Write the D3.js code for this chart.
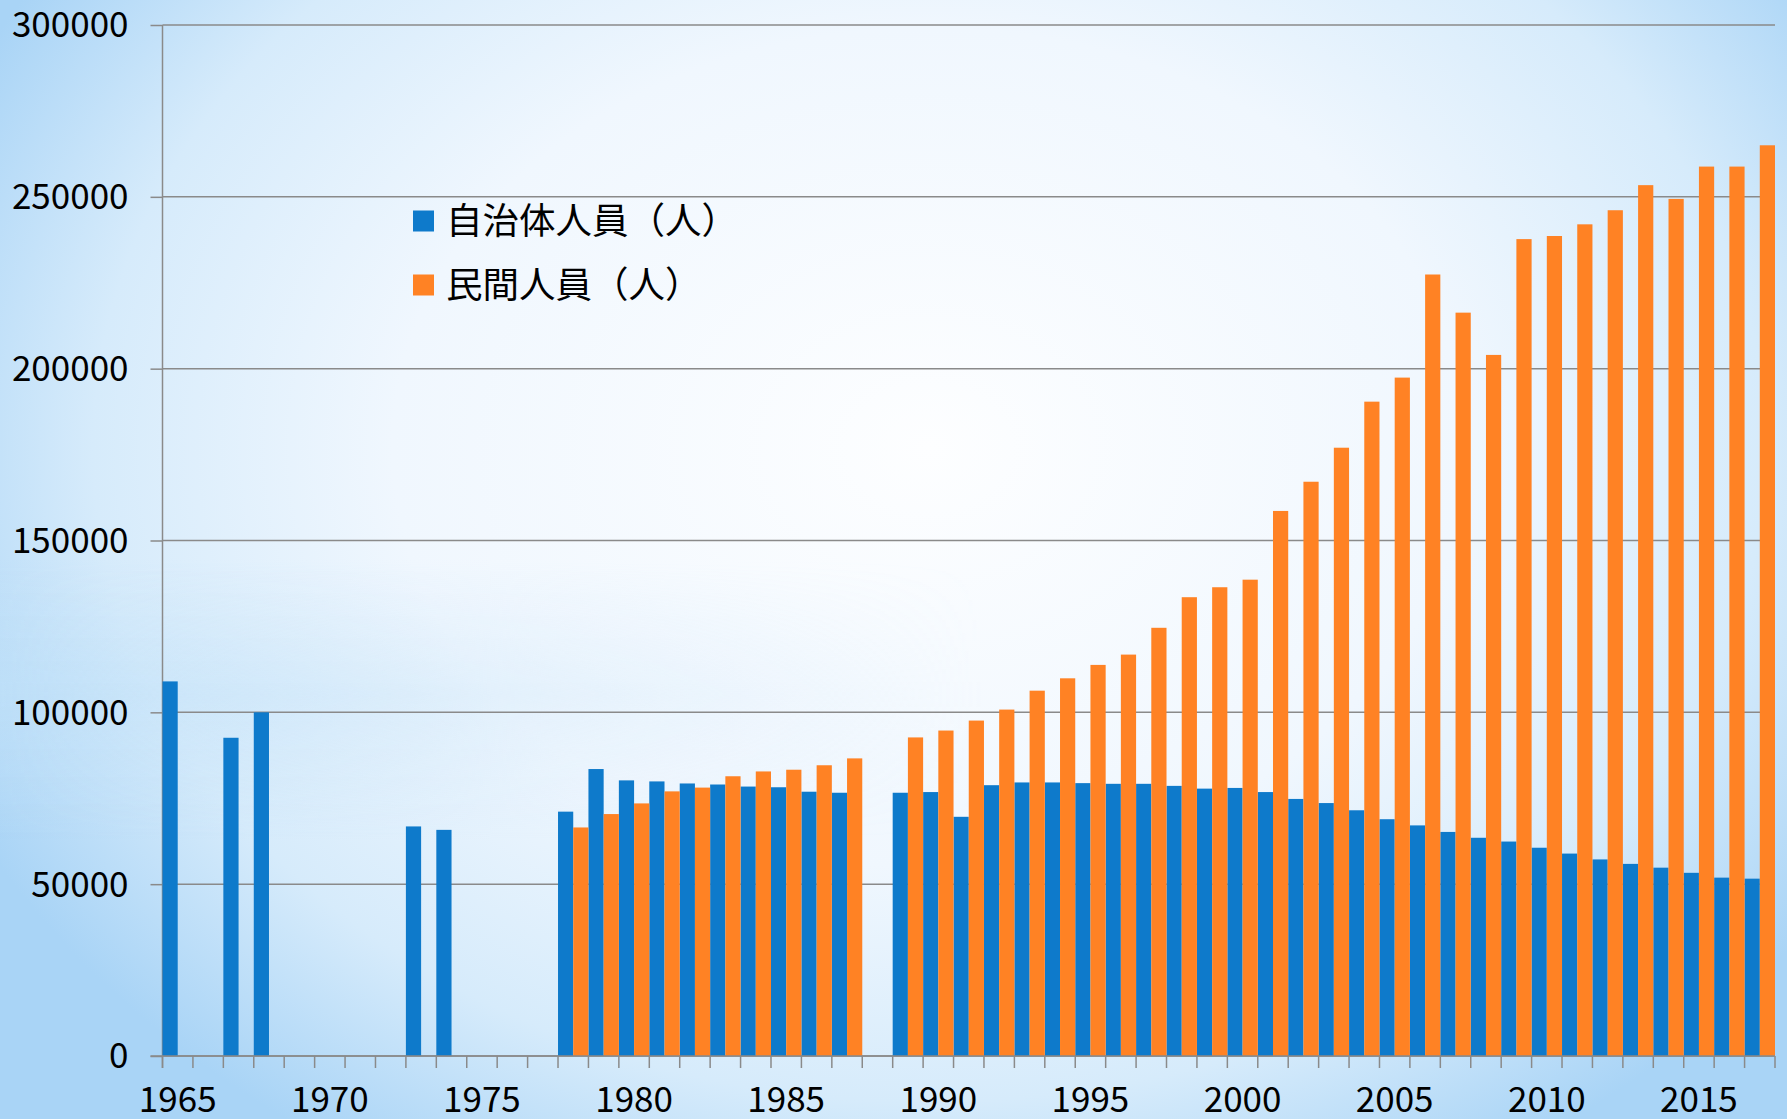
<!DOCTYPE html>
<html>
<head>
<meta charset="utf-8">
<script src="https://cdn.jsdelivr.net/npm/d3@7"></script>
<style>
  html, body { margin: 0; padding: 0; }
  body { width: 1787px; height: 1119px; overflow: hidden; }
  text { font-family: "Noto Sans CJK JP", "Noto Sans", sans-serif; fill: #000; }
</style>
</head>
<body>
<div id="chart"></div>
<script>
// categories
const years = [1965, 1966, 1967, 1968, 1969, 1970, 1971, 1972, 1973, 1974,
               1975, 1976, 1977, 1978, 1979, 1980, 1981, 1982, 1983, 1984,
               1985, 1986, 1987, 1988, 1989, 1990, 1991, 1992, 1993, 1994,
               1995, 1996, 1997, 1998, 1999, 2000, 2001, 2002, 2003, 2004,
               2005, 2006, 2007, 2008, 2009, 2010, 2011, 2012, 2013, 2014,
               2015, 2016, 2017];

// 自治体人員（人）
const localStaff = [109000, null, 92600, 100000, null, null, null, null, 66800, 65800,
                    null, null, null, 71100, 83500, 80200, 79900, 79300, 79000, 78400,
                    78200, 76900, 76600, null, 76600, 76800, 69600, 78800, 79600, 79600,
                    79400, 79200, 79200, 78600, 77800, 78000, 76800, 74800, 73600, 71500,
                    68900, 67100, 65200, 63500, 62400, 60600, 58900, 57200, 55900, 54800,
                    53300, 51900, 51600];

// 民間人員（人）
const privateStaff = [null, null, null, null, null, null, null, null, null, null,
                      null, null, null, 66500, 70400, 73500, 77000, 78100, 81400, 82800,
                      83300, 84600, 86600, null, 92700, 94700, 97600, 100800, 106300, 109900,
                      113800, 116800, 124600, 133500, 136400, 138600, 158600, 167100, 177000, 190400,
                      197400, 227400, 216300, 204000, 237700, 238600, 242000, 246100, 253400, 249400,
                      258800, 258800, 265000];

const seriesNames = ["自治体人員（人）", "民間人員（人）"];
const seriesColors = ["#0e7acb", "#ff8224"];
const yTicks = [0, 50000, 100000, 150000, 200000, 250000, 300000];
const xLabelYears = [1965, 1970, 1975, 1980, 1985, 1990, 1995, 2000, 2005, 2010, 2015];

const W = 1787, H = 1119;
const margin = {top: 25, right: 12, bottom: 63, left: 162.5};

const svg = d3.select("#chart").append("svg")
    .attr("width", W)
    .attr("height", H);

// background
const defs = svg.append("defs");
const bg = defs.append("radialGradient")
    .attr("id", "bg")
    .attr("cx", "52%").attr("cy", "40%")
    .attr("r", "75%")
    .attr("gradientTransform", "translate(0.52,0.40) scale(0.8,1) translate(-0.52,-0.40)");
bg.append("stop").attr("offset", "0%").attr("stop-color", "#fdfeff");
bg.append("stop").attr("offset", "50%").attr("stop-color", "#f0f7fe");
bg.append("stop").attr("offset", "78%").attr("stop-color", "#d6ebfb");
bg.append("stop").attr("offset", "100%").attr("stop-color", "#a9d4f6");

const band = defs.append("linearGradient")
    .attr("id", "band").attr("x1", 0).attr("y1", 0).attr("x2", 0).attr("y2", 1);
band.append("stop").attr("offset", "0.50").attr("stop-color", "#bfe0f8").attr("stop-opacity", 0);
band.append("stop").attr("offset", "0.62").attr("stop-color", "#bfe0f8").attr("stop-opacity", 0.55);
band.append("stop").attr("offset", "0.75").attr("stop-color", "#bfe0f8").attr("stop-opacity", 0);

const bandFade = defs.append("linearGradient")
    .attr("id", "bandFade").attr("x1", 0).attr("y1", 0).attr("x2", 1).attr("y2", 0);
bandFade.append("stop").attr("offset", "0").attr("stop-color", "#fff").attr("stop-opacity", 1);
bandFade.append("stop").attr("offset", "0.55").attr("stop-color", "#fff").attr("stop-opacity", 0);
defs.append("mask").attr("id", "bandMask")
    .append("rect").attr("width", W).attr("height", H).attr("fill", "url(#bandFade)");

svg.append("rect").attr("width", W).attr("height", H).attr("fill", "url(#bg)");
svg.append("rect").attr("width", W).attr("height", H)
    .attr("fill", "url(#band)").attr("mask", "url(#bandMask)");

// scales
const x = d3.scaleBand()
    .domain(years)
    .range([margin.left, W - margin.right])
    .paddingInner(0).paddingOuter(0);

const xSub = d3.scaleBand()
    .domain([0, 1])
    .range([0, x.bandwidth()])
    .padding(0);

const y = d3.scaleLinear()
    .domain([0, 300000])
    .range([H - margin.bottom, margin.top]);

const g = svg.append("g");

// gridlines + y axis
g.append("g")
    .attr("transform", "translate(" + margin.left + ",0)")
    .call(d3.axisLeft(y).tickValues(yTicks).tickSize(12).tickFormat(d3.format("d")))
    .call(a => a.select(".domain").remove())
    .call(a => a.selectAll(".tick line").attr("stroke", "#8a8a8a").attr("stroke-width", 1.5))
    .call(a => a.selectAll(".tick text")
        .attr("x", -34)
        .attr("dy", "0.34em")
        .style("font-size", "35px"));

g.append("g")
    .selectAll("line")
    .data(yTicks)
    .join("line")
    .attr("x1", margin.left)
    .attr("x2", W - margin.right)
    .attr("y1", d => y(d))
    .attr("y2", d => y(d))
    .attr("stroke", "#8a8a8a")
    .attr("stroke-width", 1.5);

g.append("line")
    .attr("x1", margin.left).attr("x2", margin.left)
    .attr("y1", y(300000)).attr("y2", y(0) + 12)
    .attr("stroke", "#8a8a8a").attr("stroke-width", 1.5);

// bars
const series = [localStaff, privateStaff];
series.forEach((vals, si) => {
    g.append("g")
        .selectAll("rect")
        .data(years.map((yr, i) => ({year: yr, value: vals[i]})).filter(d => d.value != null))
        .join("rect")
        .attr("x", d => x(d.year) + xSub(si))
        .attr("y", d => y(d.value))
        .attr("width", xSub.bandwidth())
        .attr("height", d => y(0) - y(d.value))
        .attr("fill", seriesColors[si]);
});

// x axis
const xAxis = g.append("g").attr("transform", "translate(0," + y(0) + ")");
xAxis.append("line")
    .attr("x1", margin.left - 12).attr("x2", W - margin.right)
    .attr("stroke", "#8a8a8a").attr("stroke-width", 1.5);
xAxis.selectAll(".bound")
    .data(years.concat(["end"]))
    .join("line")
    .attr("class", "bound")
    .attr("x1", (d, i) => i < years.length ? x(d) : x(years[years.length - 1]) + x.bandwidth())
    .attr("x2", (d, i) => i < years.length ? x(d) : x(years[years.length - 1]) + x.bandwidth())
    .attr("y1", 0).attr("y2", 12)
    .attr("stroke", "#8a8a8a").attr("stroke-width", 1.5);
xAxis.selectAll(".lbl")
    .data(xLabelYears)
    .join("text")
    .attr("class", "lbl")
    .attr("x", d => x(d) + x.bandwidth() / 2)
    .attr("y", 56)
    .attr("text-anchor", "middle")
    .style("font-size", "35px")
    .text(d => d);

// legend
const legend = g.append("g").attr("transform", "translate(413,221)");
seriesNames.forEach((name, i) => {
    const row = legend.append("g").attr("transform", "translate(0," + (i * 64) + ")");
    row.append("rect")
        .attr("x", 0).attr("y", -10.5)
        .attr("width", 21).attr("height", 21)
        .attr("fill", seriesColors[i]);
    row.append("text")
        .attr("x", 33)
        .attr("dy", "0.36em")
        .style("font-size", "36.5px")
        .text(name);
});
</script>
</body>
</html>
